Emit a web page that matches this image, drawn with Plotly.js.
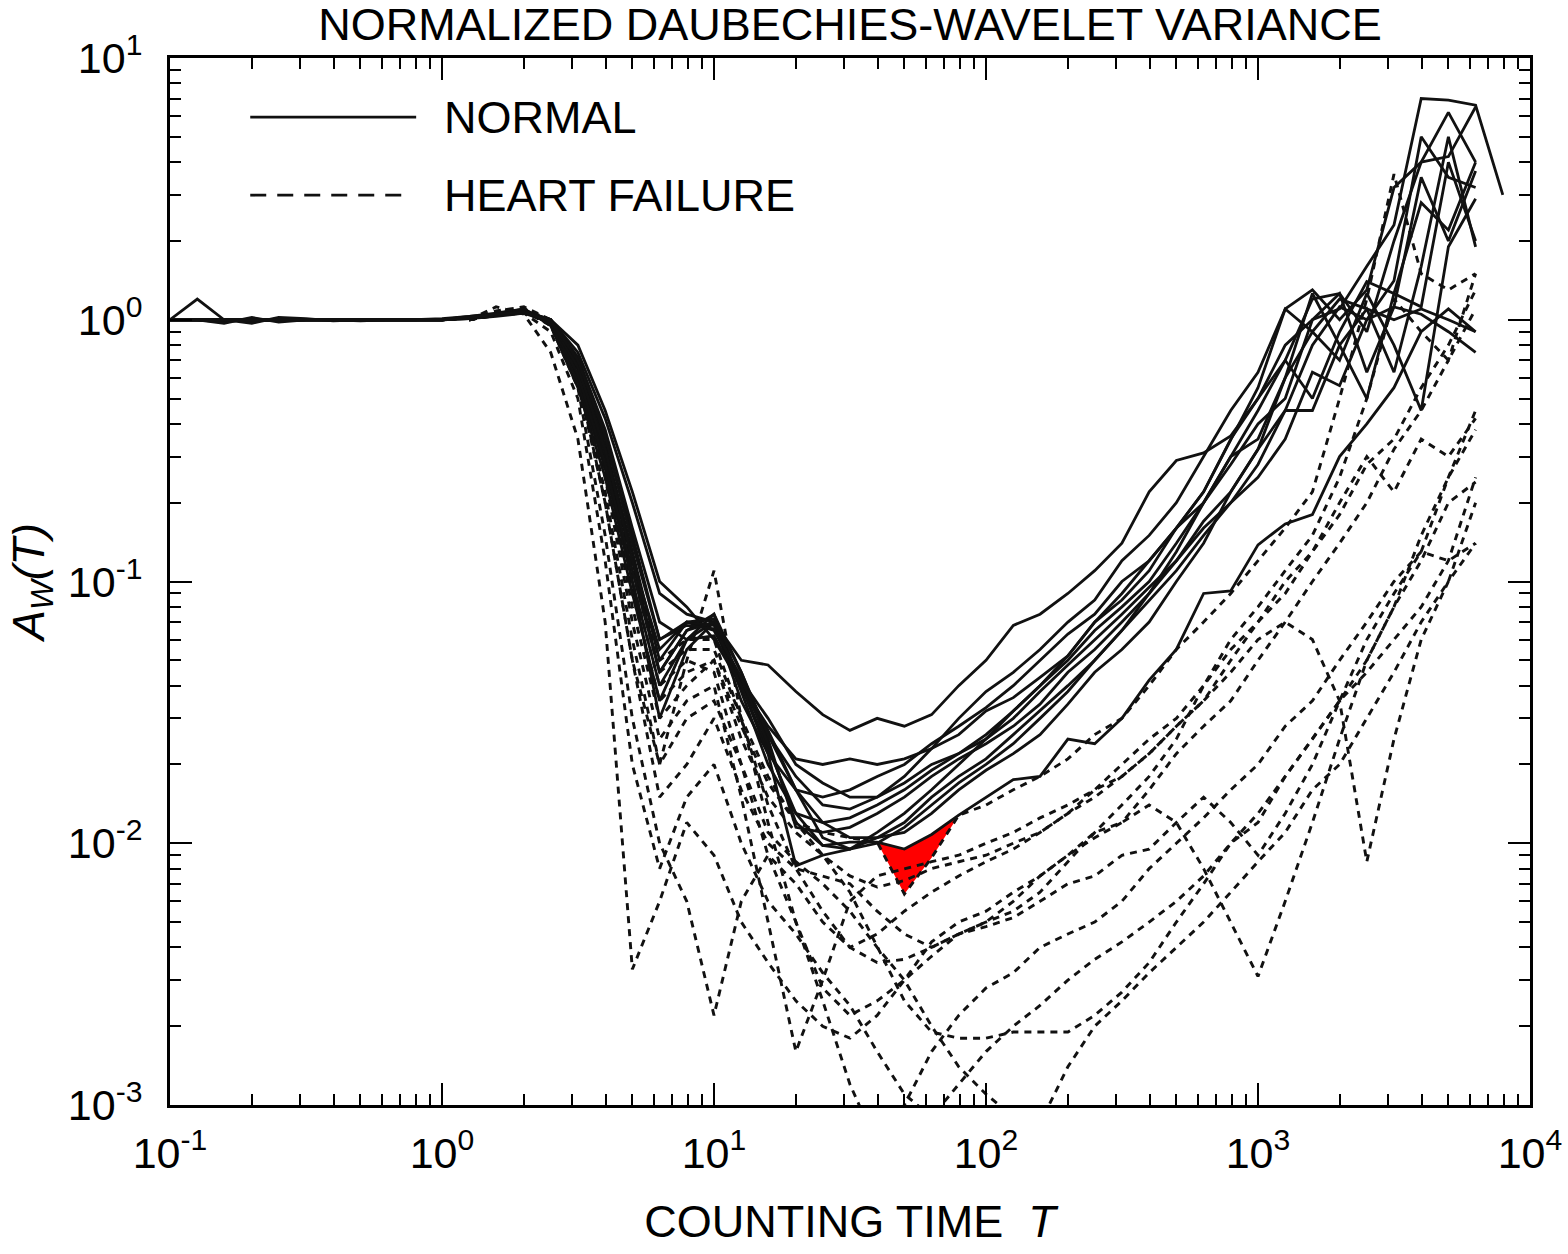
<!DOCTYPE html>
<html><head><meta charset="utf-8">
<script src="https://cdn.plot.ly/plotly-3.0.1.min.js"></script>
<style>html,body{margin:0;padding:0;background:#fff}</style>
</head><body>
<div id="chart" style="width:1568px;height:1254px"></div>
<script>
// Counting times T (seconds), shared grid for all curves
const T = [0.1, 0.126, 0.158, 0.2, 0.251, 0.316, 0.398, 0.501, 0.631, 0.794,
  1, 1.26, 1.58, 2, 2.51, 3.16, 3.98, 5.01, 6.31, 7.94,
  10, 12.6, 15.8, 20, 25.1, 31.6, 39.8, 50.1, 63.1, 79.4,
  100, 126, 158, 200, 251, 316, 398, 501, 631, 794,
  1000, 1259, 1585, 1995, 2512, 3162, 3981, 5012, 6310, 7943];

// NORMAL subjects (start at T[0])
const N01 = [1.0, 1.0, 0.98, 1.01, 0.99, 1.0, 1.0, 0.99, 1.0, 1.0, 1.0, 1.02, 1.05, 1.08,
  1.0, 0.75, 0.42, 0.2, 0.09, 0.075, 0.07, 0.05, 0.048, 0.038, 0.031, 0.027, 0.03, 0.028, 0.031, 0.04, 0.05, 0.068, 0.075, 0.09, 0.11, 0.14, 0.22, 0.29, 0.31, 0.36, 0.5, 0.8, 1.0, 1.1, 1.6, 2.3, 7.0, 6.9, 6.6, 3.0];
const N02 = [1.0, 1.2, 1.0, 0.97, 1.02, 1.01, 0.99, 1.0, 1.0, 1.0, 1.01, 1.03, 1.06, 1.1,
  0.97, 0.6, 0.3, 0.12, 0.045, 0.065, 0.075, 0.04, 0.028, 0.021, 0.02, 0.021, 0.02, 0.021, 0.023, 0.026, 0.032, 0.036, 0.043, 0.052, 0.07, 0.085, 0.11, 0.16, 0.2, 0.3, 0.45, 0.7, 1.2, 1.26, 0.9, 2.0, 4.0, 6.2, 4.0];
const N03 = [1.0, 1.0, 1.0, 0.99, 1.0, 1.0, 1.0, 1.0, 1.0, 1.0, 1.0, 1.02, 1.05, 1.1,
  0.95, 0.55, 0.25, 0.09, 0.035, 0.06, 0.07, 0.035, 0.022, 0.016, 0.015, 0.016, 0.018, 0.02, 0.024, 0.028, 0.033, 0.04, 0.05, 0.063, 0.075, 0.1, 0.12, 0.16, 0.22, 0.35, 0.55, 1.1, 1.3, 1.0, 1.3, 3.2, 4.0, 4.2, 6.5];
const N04 = [1.0, 1.0, 0.97, 1.02, 0.98, 1.0, 1.0, 1.0, 1.0, 1.0, 1.0, 1.02, 1.04, 1.07,
  1.0, 0.7, 0.35, 0.15, 0.06, 0.07, 0.065, 0.042, 0.03, 0.02, 0.017, 0.015, 0.015, 0.017, 0.02, 0.022, 0.026, 0.032, 0.04, 0.05, 0.065, 0.08, 0.1, 0.14, 0.2, 0.28, 0.4, 0.5, 1.0, 1.26, 0.63, 1.12, 3.5, 2.0, 3.7];
const N05 = [1.0, 1.0, 1.0, 1.0, 1.0, 1.0, 1.0, 1.0, 1.0, 1.0, 1.0, 1.01, 1.04, 1.06,
  0.98, 0.65, 0.3, 0.1, 0.03, 0.055, 0.07, 0.038, 0.02, 0.013, 0.012, 0.0125, 0.014, 0.016, 0.019, 0.022, 0.025, 0.03, 0.038, 0.048, 0.06, 0.075, 0.095, 0.12, 0.17, 0.22, 0.32, 0.6, 1.26, 0.8, 1.1, 0.63, 1.6, 5.0, 1.9];
const N06 = [1.0, 1.0, 1.0, 1.0, 1.0, 1.0, 1.0, 1.0, 1.0, 1.0, 1.0, 1.03, 1.05, 1.08,
  1.0, 0.8, 0.45, 0.22, 0.1, 0.08, 0.06, 0.04, 0.026, 0.018, 0.014, 0.0135, 0.015, 0.018, 0.023, 0.03, 0.038, 0.045, 0.055, 0.07, 0.085, 0.12, 0.15, 0.2, 0.3, 0.45, 0.63, 1.1, 0.9, 1.2, 1.1, 1.0, 1.1, 1.0, 0.9];
const N07 = [1.0, 1.0, 1.0, 1.0, 1.0, 1.0, 1.0, 1.0, 1.0, 1.0, 1.0, 1.02, 1.05, 1.09,
  0.96, 0.58, 0.27, 0.1, 0.04, 0.06, 0.075, 0.045, 0.025, 0.0115, 0.011, 0.0115, 0.013, 0.015, 0.018, 0.021, 0.024, 0.028, 0.034, 0.045, 0.055, 0.07, 0.09, 0.13, 0.2, 0.3, 0.35, 0.6, 0.9, 0.7, 1.26, 0.8, 0.45, 1.9, 2.9];
const N08 = [1.0, 1.0, 1.0, 1.0, 1.0, 1.0, 1.0, 1.0, 1.0, 1.0, 1.0, 1.02, 1.04, 1.07,
  0.99, 0.68, 0.33, 0.13, 0.05, 0.07, 0.068, 0.042, 0.027, 0.016, 0.0105, 0.0095, 0.0105, 0.012, 0.015, 0.018, 0.021, 0.026, 0.032, 0.04, 0.05, 0.065, 0.085, 0.11, 0.15, 0.2, 0.28, 0.45, 0.8, 1.12, 1.0, 1.12, 1.05, 0.9, 0.75];
const N09 = [1.0, 1.0, 1.0, 1.0, 1.0, 1.0, 1.0, 1.0, 1.0, 1.0, 1.0, 1.02, 1.05, 1.08,
  0.97, 0.62, 0.28, 0.11, 0.045, 0.065, 0.07, 0.04, 0.022, 0.0082, 0.009, 0.0095, 0.011, 0.013, 0.016, 0.02, 0.025, 0.032, 0.04, 0.052, 0.07, 0.09, 0.12, 0.16, 0.22, 0.35, 0.5, 0.7, 0.5, 0.9, 1.4, 1.26, 2.8, 2.2, 4.0];
const N10 = [1.0, 1.0, 1.0, 1.0, 1.0, 1.0, 1.0, 1.0, 1.0, 1.0, 1.0, 1.01, 1.03, 1.06,
  1.0, 0.72, 0.38, 0.16, 0.07, 0.06, 0.062, 0.04, 0.023, 0.013, 0.0098, 0.0095, 0.01, 0.0115, 0.014, 0.017, 0.02, 0.024, 0.03, 0.038, 0.05, 0.065, 0.09, 0.12, 0.16, 0.2, 0.25, 0.35, 0.63, 0.56, 1.0, 1.41, 5.0, 3.5, 3.2];
const N11 = [1.0, 1.0, 1.0, 1.0, 1.0, 1.0, 1.0, 1.0, 1.0, 1.0, 1.0, 1.02, 1.04, 1.08,
  0.98, 0.66, 0.32, 0.12, 0.055, 0.07, 0.072, 0.045, 0.026, 0.016, 0.012, 0.0105, 0.0105, 0.011, 0.013, 0.016, 0.019, 0.022, 0.026, 0.034, 0.045, 0.055, 0.07, 0.1, 0.14, 0.22, 0.32, 0.45, 0.45, 0.8, 0.5, 1.26, 1.12, 4.0, 2.0];
const N12 = [1.0, 1.0, 1.0, 1.0, 1.0, 1.0, 1.0, 1.0, 1.0, 1.0, 1.0, 1.02, 1.05, 1.07,
  0.99, 0.7, 0.36, 0.14, 0.06, 0.068, 0.066, 0.043, 0.024, 0.012, 0.0098, 0.0101, 0.0101, 0.0095, 0.0108, 0.0128, 0.015, 0.0175, 0.018, 0.025, 0.024, 0.03, 0.042, 0.055, 0.09, 0.092, 0.138, 0.166, 0.18, 0.3, 0.4, 0.55, 0.9, 1.1, 0.9];

// HEART FAILURE patients (start at T[11])
const HF01 = [1.0, 1.12, 1.05, 0.75, 0.35, 0.07, 0.0033, 0.006, 0.012, 0.009, 0.005, 0.0035, 0.0025, 0.002, 0.0018, 0.0022, 0.003, 0.0042, 0.005, 0.0055, 0.0065, 0.0075, 0.009, 0.0105, 0.012, 0.016, 0.022, 0.028, 0.035, 0.05, 0.07, 0.1, 0.14, 0.2, 0.32, 0.45, 0.7, 1.5];
const HF02 = [1.0, 1.08, 1.12, 1.0, 0.6, 0.2, 0.05, 0.02, 0.05, 0.11, 0.03, 0.012, 0.005, 0.0028, 0.0022, 0.0025, 0.003, 0.0037, 0.0045, 0.005, 0.0055, 0.0065, 0.0085, 0.011, 0.014, 0.018, 0.025, 0.04, 0.06, 0.08, 0.11, 0.15, 0.25, 0.5, 1.2, 0.9, 0.7, 1.1];
const HF03 = [1.0, 1.05, 1.1, 0.95, 0.55, 0.15, 0.03, 0.01, 0.006, 0.0022, 0.006, 0.009, 0.007, 0.005, 0.004, 0.0035, 0.0036, 0.004, 0.0045, 0.0048, 0.0052, 0.006, 0.007, 0.0075, 0.009, 0.0095, 0.012, 0.015, 0.012, 0.009, 0.013, 0.02, 0.035, 0.06, 0.09, 0.13, 0.25, 0.45];
const HF04 = [1.0, 1.06, 1.1, 0.97, 0.62, 0.25, 0.07, 0.025, 0.035, 0.04, 0.015, 0.005, 0.0016, 0.003, 0.006, 0.0075, 0.008, 0.0085, 0.009, 0.01, 0.011, 0.0125, 0.014, 0.016, 0.02, 0.025, 0.03, 0.04, 0.055, 0.07, 0.1, 0.13, 0.18, 0.28, 0.35, 0.55, 0.8, 1.3];
const HF05 = [1.0, 1.05, 1.08, 0.95, 0.6, 0.22, 0.06, 0.02, 0.03, 0.035, 0.02, 0.009, 0.005, 0.0025, 0.0012, 0.0007, 0.001, 0.0016, 0.0022, 0.0028, 0.0032, 0.004, 0.0045, 0.005, 0.006, 0.008, 0.01, 0.0125, 0.016, 0.02, 0.028, 0.035, 0.05, 0.07, 0.1, 0.13, 0.12, 0.14];
const HF06 = [1.0, 1.04, 1.07, 0.97, 0.65, 0.28, 0.09, 0.035, 0.045, 0.05, 0.025, 0.015, 0.011, 0.009, 0.0065, 0.004, 0.0025, 0.0019, 0.0018, 0.0018, 0.0019, 0.0019, 0.0019, 0.0022, 0.0027, 0.0035, 0.005, 0.007, 0.01, 0.012, 0.018, 0.025, 0.035, 0.05, 0.08, 0.15, 0.25, 0.38];
const HF07 = [1.0, 1.05, 1.1, 0.98, 0.66, 0.3, 0.1, 0.04, 0.05, 0.045, 0.02, 0.011, 0.0085, 0.007, 0.0055, 0.004, 0.003, 0.002, 0.0014, 0.0011, 0.0009, 0.00085, 0.0014, 0.002, 0.0025, 0.0032, 0.004, 0.005, 0.0065, 0.0085, 0.011, 0.016, 0.02, 0.03, 0.045, 0.07, 0.1, 0.2];
const HF08 = [1.0, 1.07, 1.09, 0.96, 0.58, 0.2, 0.05, 0.015, 0.02, 0.03, 0.016, 0.01, 0.008, 0.0075, 0.007, 0.0055, 0.0045, 0.004, 0.0045, 0.005, 0.006, 0.0075, 0.009, 0.011, 0.012, 0.014, 0.012, 0.008, 0.005, 0.0031, 0.006, 0.012, 0.025, 0.05, 0.08, 0.12, 0.2, 0.24];
const HF09 = [1.0, 1.06, 1.1, 0.99, 0.7, 0.33, 0.12, 0.05, 0.06, 0.06, 0.03, 0.018, 0.012, 0.009, 0.0075, 0.0068, 0.0072, 0.008, 0.0085, 0.009, 0.01, 0.011, 0.013, 0.015, 0.018, 0.022, 0.028, 0.035, 0.045, 0.06, 0.07, 0.06, 0.035, 0.0085, 0.025, 0.06, 0.1, 0.14];
const HF10 = [1.0, 1.05, 1.08, 0.98, 0.63, 0.27, 0.08, 0.03, 0.04, 0.05, 0.028, 0.017, 0.012, 0.011, 0.0105, 0.0101, 0.0064, 0.0088, 0.0128, 0.014, 0.016, 0.018, 0.021, 0.026, 0.03, 0.04, 0.055, 0.07, 0.09, 0.12, 0.16, 0.22, 0.5, 1.2, 3.6, 1.5, 1.3, 1.5];
const HF11 = [1.0, 1.04, 1.06, 0.9, 0.5, 0.12, 0.02, 0.008, 0.015, 0.02, 0.01, 0.006, 0.0045, 0.0032, 0.0024, 0.0016, 0.0011, 0.0009, 0.0012, 0.0016, 0.002, 0.0024, 0.003, 0.0036, 0.0042, 0.005, 0.006, 0.0075, 0.01, 0.013, 0.018, 0.025, 0.035, 0.045, 0.06, 0.08, 0.12, 0.25];
const HF12 = [1.0, 1.05, 1.1, 1.0, 0.68, 0.32, 0.11, 0.045, 0.055, 0.055, 0.03, 0.014, 0.008, 0.0055, 0.004, 0.0045, 0.0055, 0.0065, 0.0075, 0.0085, 0.0095, 0.011, 0.013, 0.016, 0.018, 0.022, 0.028, 0.035, 0.05, 0.07, 0.09, 0.13, 0.2, 0.3, 0.22, 0.35, 0.3, 0.42];

const NORMAL = [N01, N02, N03, N04, N05, N06, N07, N08, N09, N10, N11, N12];
const HEART_FAILURE = [HF01, HF02, HF03, HF04, HF05, HF06, HF07, HF08, HF09, HF10, HF11, HF12];
const HF_START = 11;           // grid index where heart-failure curves begin
const PATCH_FROM = 26, PATCH_TO = 29; // red region between N12 and HF10

const X_TICK_VALS = [0.1, 1, 10, 100, 1000, 10000];
const X_TICK_TEXT = ['10<sup>-1</sup>', '10<sup>0</sup>', '10<sup>1</sup>', '10<sup>2</sup>', '10<sup>3</sup>', '10<sup>4</sup>'];
const Y_TICK_VALS = [0.001, 0.01, 0.1, 1, 10];
const Y_TICK_TEXT = ['10<sup>-3</sup>', '10<sup>-2</sup>', '10<sup>-1</sup>', '10<sup>0</sup>', '10<sup>1</sup>'];

const FONT = 'Liberation Sans, Arial, Helvetica, sans-serif';
const traces = [];

// red patch
const pT = T.slice(PATCH_FROM, PATCH_TO + 1);
const pTop = N12.slice(PATCH_FROM, PATCH_TO + 1);
const pBot = HF10.slice(PATCH_FROM - HF_START, PATCH_TO - HF_START + 1);
traces.push({
  x: pT.concat(pT.slice().reverse()),
  y: pTop.concat(pBot.slice().reverse()),
  mode: 'lines', fill: 'toself', fillcolor: '#ff0000',
  line: {color: 'rgba(0,0,0,0)', width: 0}, hoverinfo: 'skip'
});

HEART_FAILURE.forEach(s => traces.push({
  x: T.slice(HF_START, HF_START + s.length), y: s, mode: 'lines',
  line: {color: '#111', width: 2.9, dash: '7px,6px'}
}));
NORMAL.forEach(s => traces.push({
  x: T.slice(0, s.length), y: s, mode: 'lines',
  line: {color: '#111', width: 2.8}
}));

const axisCommon = {
  type: 'log', showgrid: false, zeroline: false,
  showline: true, linecolor: 'black', linewidth: 3, mirror: 'allticks',
  ticks: 'inside', ticklen: 22, tickwidth: 2, tickcolor: 'black',
  tickmode: 'array',
  tickfont: {family: FONT, size: 43, color: 'black'},
  minor: {ticks: 'inside', ticklen: 11, tickwidth: 2, tickcolor: 'black', dtick: 'D1', showgrid: false}
};

const layout = {
  width: 1568, height: 1254,
  margin: {l: 170, r: 38, t: 58, b: 149},
  paper_bgcolor: 'white', plot_bgcolor: 'white',
  showlegend: false,
  font: {family: FONT, color: 'black'},
  title: {text: 'NORMALIZED DAUBECHIES-WAVELET VARIANCE', font: {family: FONT, size: 45, color: 'black'},
          x: 0.5, xref: 'paper', y: 0.993, yref: 'container', yanchor: 'top'},
  xaxis: Object.assign({}, axisCommon, {
    range: [-1, 4], tickvals: X_TICK_VALS, ticktext: X_TICK_TEXT, ticklabelstandoff: 8,
    title: {text: 'COUNTING TIME&nbsp;&nbsp;<i>T</i>', font: {family: FONT, size: 45, color: 'black'}, standoff: 30}
  }),
  yaxis: Object.assign({}, axisCommon, {
    range: [-3, 1], tickvals: Y_TICK_VALS, ticktext: Y_TICK_TEXT, ticklabelstandoff: 16,
    title: {text: '<i>A</i><sub><i>W</i></sub><i>(T)</i>', font: {family: FONT, size: 45, color: 'black'}, standoff: 10}
  }),
  shapes: [
    {type: 'line', xref: 'paper', yref: 'paper', x0: 0.059, x1: 0.181, y0: 0.9436, y1: 0.9436, line: {color: '#111', width: 2.8}},
    {type: 'line', xref: 'paper', yref: 'paper', x0: 0.059, x1: 0.171, y0: 0.869, y1: 0.869, line: {color: '#111', width: 2.8, dash: '16px,11px'}}
  ],
  annotations: [
    {xref: 'paper', yref: 'paper', x: 0.2, y: 0.9436, xanchor: 'left', yanchor: 'middle', showarrow: false,
     text: 'NORMAL', font: {family: FONT, size: 45, color: 'black'}},
    {xref: 'paper', yref: 'paper', x: 0.2, y: 0.869, xanchor: 'left', yanchor: 'middle', showarrow: false,
     text: 'HEART FAILURE', font: {family: FONT, size: 45, color: 'black'}}
  ]
};

Plotly.newPlot('chart', traces, layout, {displayModeBar: false, staticPlot: true});
</script>
</body></html>
